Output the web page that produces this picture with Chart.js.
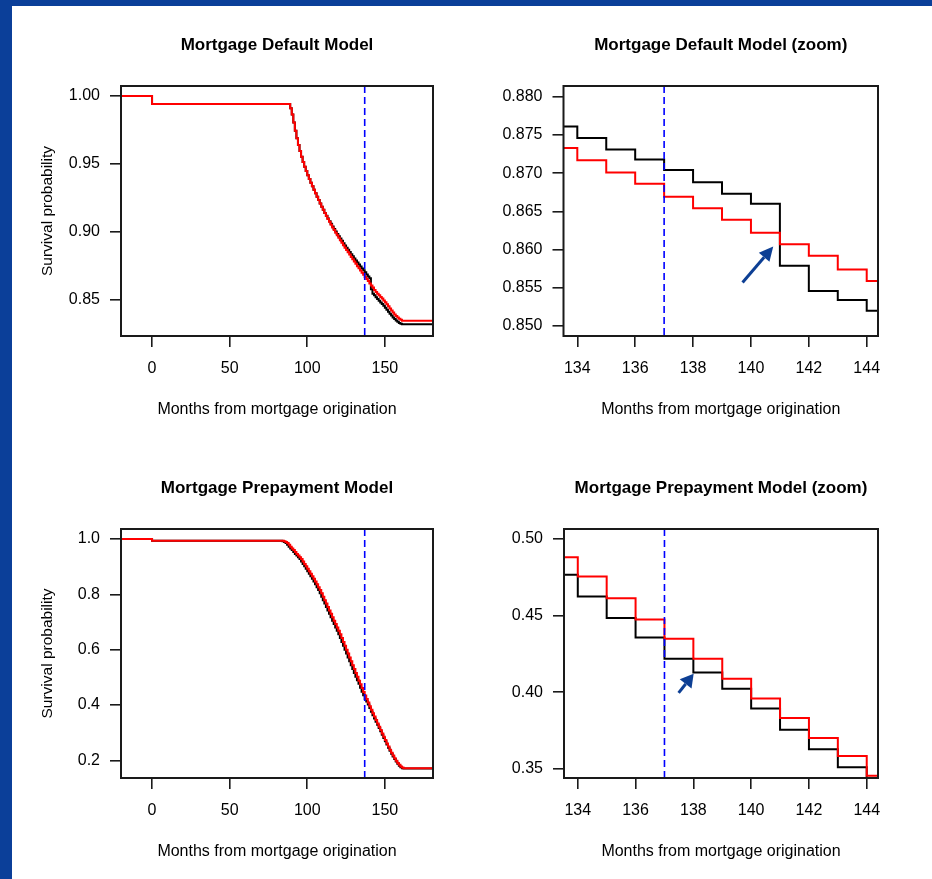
<!DOCTYPE html>
<html><head><meta charset="utf-8">
<script src="https://cdn.jsdelivr.net/npm/chart.js@4.4.1/dist/chart.umd.min.js"></script>
<style>
html,body{margin:0;padding:0;background:#fff;}
#page{position:relative;width:932px;height:879px;background:#fff;overflow:hidden;}
.band-top{position:absolute;left:0;top:0;width:932px;height:6px;background:#0b3f99;}
.band-left{position:absolute;left:0;top:0;width:12px;height:879px;background:#0b3f99;}
canvas{position:absolute;}
</style></head><body>
<div id="page">
<div class="band-top"></div><div class="band-left"></div>
<canvas id="c1" width="466" height="440" style="left:0;top:0"></canvas>
<canvas id="c2" width="466" height="440" style="left:466px;top:0"></canvas>
<canvas id="c3" width="466" height="439" style="left:0;top:440px"></canvas>
<canvas id="c4" width="466" height="439" style="left:466px;top:440px"></canvas>
</div>
<script>
// ---------------- DATA ----------------
const cutoffMonth = 137;

const defaultMonths = [-20, 0, 88, 89, 90, 91, 92, 93, 94, 95, 96, 97, 98, 99, 100, 101, 102, 103, 104, 105, 106, 107, 108, 109, 110, 111, 112, 113, 114, 115, 116, 117, 118, 119, 120, 121, 122, 123, 124, 125, 126, 127, 128, 129, 130, 131, 132, 133, 134, 135, 136, 137, 138, 139, 140, 141, 142, 143, 144, 145, 146, 147, 148, 149, 150, 151, 152, 153, 154, 155, 156, 157, 158, 159, 160, 161, 181];
const defaultRed = [1.0, 0.9941, 0.9941, 0.9910, 0.9865, 0.9805, 0.9745, 0.9690, 0.9640, 0.9595, 0.9553, 0.9515, 0.9480, 0.9448, 0.9418, 0.9390, 0.9362, 0.9336, 0.9310, 0.9285, 0.9260, 0.9235, 0.9210, 0.9186, 0.9163, 0.9140, 0.9118, 0.9096, 0.9075, 0.9054, 0.9034, 0.9014, 0.8995, 0.8976, 0.8957, 0.8939, 0.8921, 0.8903, 0.8885, 0.8868, 0.8851, 0.8834, 0.8817, 0.8800, 0.8783, 0.8766, 0.8749, 0.8733, 0.8717, 0.8701, 0.8686, 0.8669, 0.8654, 0.8639, 0.8622, 0.8607, 0.8592, 0.8574, 0.8559, 0.8546, 0.8534, 0.8522, 0.8510, 0.8497, 0.8483, 0.8468, 0.8453, 0.8438, 0.8423, 0.8408, 0.8394, 0.8382, 0.8371, 0.8362, 0.8354, 0.8348, 0.8348];
const defaultBlack = [1.0, 0.9941, 0.9941, 0.9910, 0.9865, 0.9805, 0.9745, 0.9690, 0.9640, 0.9595, 0.9553, 0.9515, 0.9480, 0.9448, 0.9418, 0.9390, 0.9362, 0.9336, 0.9310, 0.9285, 0.9260, 0.9235, 0.9210, 0.9186, 0.9163, 0.9140, 0.9120, 0.9099, 0.9079, 0.9060, 0.9041, 0.9022, 0.9004, 0.8986, 0.8969, 0.8952, 0.8935, 0.8918, 0.8901, 0.8885, 0.8869, 0.8853, 0.8837, 0.8821, 0.8806, 0.8791, 0.8776, 0.8761, 0.8746, 0.8731, 0.8718, 0.8704, 0.8688, 0.8673, 0.8660, 0.8579, 0.8546, 0.8534, 0.8520, 0.8508, 0.8495, 0.8482, 0.8470, 0.8457, 0.8443, 0.8429, 0.8414, 0.8399, 0.8385, 0.8372, 0.8360, 0.8349, 0.8339, 0.8331, 0.8325, 0.8321, 0.8321];

const prepayMonths = [-20, 0, 84, 85, 86, 87, 88, 89, 90, 91, 92, 93, 94, 95, 96, 97, 98, 99, 100, 101, 102, 103, 104, 105, 106, 107, 108, 109, 110, 111, 112, 113, 114, 115, 116, 117, 118, 119, 120, 121, 122, 123, 124, 125, 126, 127, 128, 129, 130, 131, 132, 133, 134, 135, 136, 137, 138, 139, 140, 141, 142, 143, 144, 145, 146, 147, 148, 149, 150, 151, 152, 153, 154, 155, 156, 157, 158, 159, 160, 161, 162, 181];
const prepayRed = [1.0, 0.994, 0.994, 0.992, 0.989, 0.985, 0.979, 0.972, 0.966, 0.960, 0.953, 0.946, 0.940, 0.934, 0.928, 0.919, 0.910, 0.901, 0.892, 0.883, 0.874, 0.865, 0.856, 0.846, 0.836, 0.826, 0.816, 0.804, 0.791, 0.779, 0.767, 0.754, 0.742, 0.730, 0.717, 0.705, 0.693, 0.680, 0.668, 0.656, 0.642, 0.628, 0.614, 0.600, 0.586, 0.572, 0.558, 0.544, 0.530, 0.516, 0.502, 0.4881, 0.4755, 0.4614, 0.4475, 0.4349, 0.4218, 0.4088, 0.3960, 0.3832, 0.3702, 0.3584, 0.3456, 0.3335, 0.3215, 0.3095, 0.2975, 0.2855, 0.2735, 0.2615, 0.2500, 0.2390, 0.2280, 0.2180, 0.2080, 0.1990, 0.1910, 0.1840, 0.1780, 0.1740, 0.1720, 0.1720];
const prepayBlack = [1.0, 0.994, 0.992, 0.989, 0.985, 0.979, 0.972, 0.966, 0.960, 0.953, 0.946, 0.940, 0.934, 0.928, 0.919, 0.910, 0.901, 0.892, 0.883, 0.874, 0.865, 0.856, 0.846, 0.836, 0.826, 0.816, 0.804, 0.791, 0.779, 0.767, 0.754, 0.742, 0.730, 0.717, 0.705, 0.693, 0.680, 0.668, 0.656, 0.642, 0.628, 0.614, 0.600, 0.586, 0.572, 0.558, 0.544, 0.530, 0.516, 0.502, 0.4895, 0.4766, 0.4624, 0.4485, 0.4357, 0.4218, 0.4129, 0.4023, 0.3895, 0.3756, 0.3628, 0.3511, 0.3400, 0.3290, 0.3170, 0.3050, 0.2930, 0.2810, 0.2690, 0.2575, 0.2460, 0.2350, 0.2245, 0.2145, 0.2050, 0.1960, 0.1880, 0.1810, 0.1755, 0.1720, 0.1710, 0.1710];

const fullXTicks = [0, 50, 100, 150];
const zoomXTicks = [134, 136, 138, 140, 142, 144];
const defaultFullYTicks = [0.85, 0.90, 0.95, 1.00];
const defaultFullYLabels = ['0.85', '0.90', '0.95', '1.00'];
const defaultZoomYTicks = [0.850, 0.855, 0.860, 0.865, 0.870, 0.875, 0.880];
const defaultZoomYLabels = ['0.850', '0.855', '0.860', '0.865', '0.870', '0.875', '0.880'];
const prepayFullYTicks = [0.2, 0.4, 0.6, 0.8, 1.0];
const prepayFullYLabels = ['0.2', '0.4', '0.6', '0.8', '1.0'];
const prepayZoomYTicks = [0.35, 0.40, 0.45, 0.50];
const prepayZoomYLabels = ['0.35', '0.40', '0.45', '0.50'];

const titles = ['Mortgage Default Model', 'Mortgage Default Model (zoom)', 'Mortgage Prepayment Model', 'Mortgage Prepayment Model (zoom)'];
const xAxisTitle = 'Months from mortgage origination';
const yAxisTitle = 'Survival probability';

// arrows in data units: [fromX, fromY, toX, toY]
const defaultArrow = [139.71, 0.8557, 140.77, 0.8604];
const prepayArrow = [137.49, 0.3996, 138.01, 0.4121];

// ---------------- DRAWING ----------------
const FONT = '"Liberation Sans", Arial, Helvetica, sans-serif';
Chart.defaults.font.family = FONT;
Chart.defaults.color = '#000';

function drawArrow(ctx, x0, y0, x1, y1, headLen, headW, lw, color) {
  const ang = Math.atan2(y1 - y0, x1 - x0);
  const bx = x1 - headLen * Math.cos(ang), by = y1 - headLen * Math.sin(ang);
  ctx.save();
  ctx.strokeStyle = color; ctx.lineWidth = lw; ctx.lineCap = 'butt';
  ctx.beginPath(); ctx.moveTo(x0, y0); ctx.lineTo(bx, by); ctx.stroke();
  ctx.fillStyle = color;
  ctx.beginPath(); ctx.moveTo(x1, y1);
  ctx.lineTo(bx + headW * Math.sin(ang), by - headW * Math.cos(ang));
  ctx.lineTo(bx - headW * Math.sin(ang), by + headW * Math.cos(ang));
  ctx.closePath(); ctx.fill();
  ctx.restore();
}

const decor = {
  id: 'decor',
  afterDatasetsDraw(chart, args, o) {
    const {ctx, chartArea: a, scales} = chart;
    ctx.save();
    // cutoff dashed line
    const vx = scales.x.getPixelForValue(cutoffMonth);
    ctx.strokeStyle = '#0000ff'; ctx.lineWidth = 1.6; ctx.setLineDash([7, 4]);
    ctx.beginPath(); ctx.moveTo(vx, a.top); ctx.lineTo(vx, a.bottom); ctx.stroke();
    ctx.setLineDash([]);
    // box
    ctx.strokeStyle = '#1a1a1a'; ctx.lineWidth = 2;
    ctx.strokeRect(a.left, a.top, a.right - a.left, a.bottom - a.top);
    // title
    ctx.fillStyle = '#000'; ctx.font = 'bold 17px ' + FONT;
    ctx.textAlign = 'center'; ctx.textBaseline = 'middle';
    ctx.fillText(o.title, (a.left + a.right) / 2, o.titleY);
    ctx.restore();
    if (o.arrow) {
      const ar = o.arrow;
      drawArrow(ctx, scales.x.getPixelForValue(ar[0]), scales.y.getPixelForValue(ar[1]),
        scales.x.getPixelForValue(ar[2]), scales.y.getPixelForValue(ar[3]), o.headLen, o.headW, 3, '#0d3f94');
    }
  }
};

function panel(id, c) {
  const yAxis = {
    type: 'linear', min: c.yMin, max: c.yMax,
    afterBuildTicks: s => { s.ticks = c.yTicks.map(v => ({value: v})); },
    afterFit: s => { s.width = c.left; },
    ticks: {callback: (v, i) => c.yLabels[i], font: {size: 16}, color: '#000', padding: 10, autoSkip: false},
    grid: {drawOnChartArea: false, drawTicks: true, tickLength: 11, color: '#1a1a1a', lineWidth: 1.6},
    border: {display: false},
    title: {display: !!c.yTitle, text: yAxisTitle, font: {size: 15.5}, color: '#000', padding: {top: 38.7, bottom: 0}}
  };
  new Chart(document.getElementById(id), {
    type: 'line',
    data: {datasets: [
      {data: c.months.map((m, i) => ({x: m, y: c.red[i]})), borderColor: '#ff0000', borderWidth: 2, stepped: true, pointRadius: 0, fill: false, clip: 0},
      {data: c.months.map((m, i) => ({x: m, y: c.black[i]})), borderColor: '#000000', borderWidth: 2, stepped: true, pointRadius: 0, fill: false, clip: 0}
    ]},
    options: {
      responsive: false, animation: false, devicePixelRatio: 1,
      layout: {padding: {left: 0, right: c.padRight, top: c.top, bottom: 0}},
      plugins: {legend: {display: false}, tooltip: {enabled: false}, title: {display: false},
        decor: {title: c.title, titleY: c.titleY, arrow: c.arrow, headLen: c.headLen, headW: c.headW}},
      scales: {
        x: {
          type: 'linear', min: c.xMin, max: c.xMax,
          afterBuildTicks: s => { s.ticks = c.xTicks.map(v => ({value: v})); },
          afterFit: s => { s.height = c.xAxisH; },
          ticks: {callback: (v, i) => String(c.xTicks[i]), font: {size: 16}, color: '#000', padding: 12, maxRotation: 0, autoSkip: false},
          grid: {drawOnChartArea: false, drawTicks: true, tickLength: 11, color: '#1a1a1a', lineWidth: 1.6},
          border: {display: false},
          title: {display: true, text: xAxisTitle, font: {size: 16}, color: '#000', padding: {top: 0, bottom: c.xTitlePad}}
        },
        y: yAxis
      }
    },
    plugins: [decor]
  });
}

panel('c1', {months: defaultMonths, red: defaultRed, black: defaultBlack, xMin: -20, xMax: 181, xTicks: fullXTicks,
  yMin: 0.8235, yMax: 1.0074, yTicks: defaultFullYTicks, yLabels: defaultFullYLabels, yTitle: true,
  left: 121, padRight: 33, top: 86, xAxisH: 104, xTitlePad: 21, title: titles[0], titleY: 45});
panel('c2', {months: defaultMonths, red: defaultRed, black: defaultBlack, xMin: 133.523, xMax: 144.39, xTicks: zoomXTicks,
  yMin: 0.8487, yMax: 0.8814, yTicks: defaultZoomYTicks, yLabels: defaultZoomYLabels, yTitle: false,
  left: 97.5, padRight: 54, top: 86, xAxisH: 104, xTitlePad: 21, title: titles[1], titleY: 45,
  arrow: defaultArrow, headLen: 14, headW: 7});
panel('c3', {months: prepayMonths, red: prepayRed, black: prepayBlack, xMin: -20, xMax: 181, xTicks: fullXTicks,
  yMin: 0.1365, yMax: 1.036, yTicks: prepayFullYTicks, yLabels: prepayFullYLabels, yTitle: true,
  left: 121, padRight: 33, top: 89, xAxisH: 101, xTitlePad: 18, title: titles[2], titleY: 48});
panel('c4', {months: prepayMonths, red: prepayRed, black: prepayBlack, xMin: 133.523, xMax: 144.39, xTicks: zoomXTicks,
  yMin: 0.3441, yMax: 0.5065, yTicks: prepayZoomYTicks, yLabels: prepayZoomYLabels, yTitle: false,
  left: 98, padRight: 54, top: 89, xAxisH: 101, xTitlePad: 18, title: titles[3], titleY: 48,
  arrow: prepayArrow, headLen: 13, headW: 7.5});
</script>
</body></html>
